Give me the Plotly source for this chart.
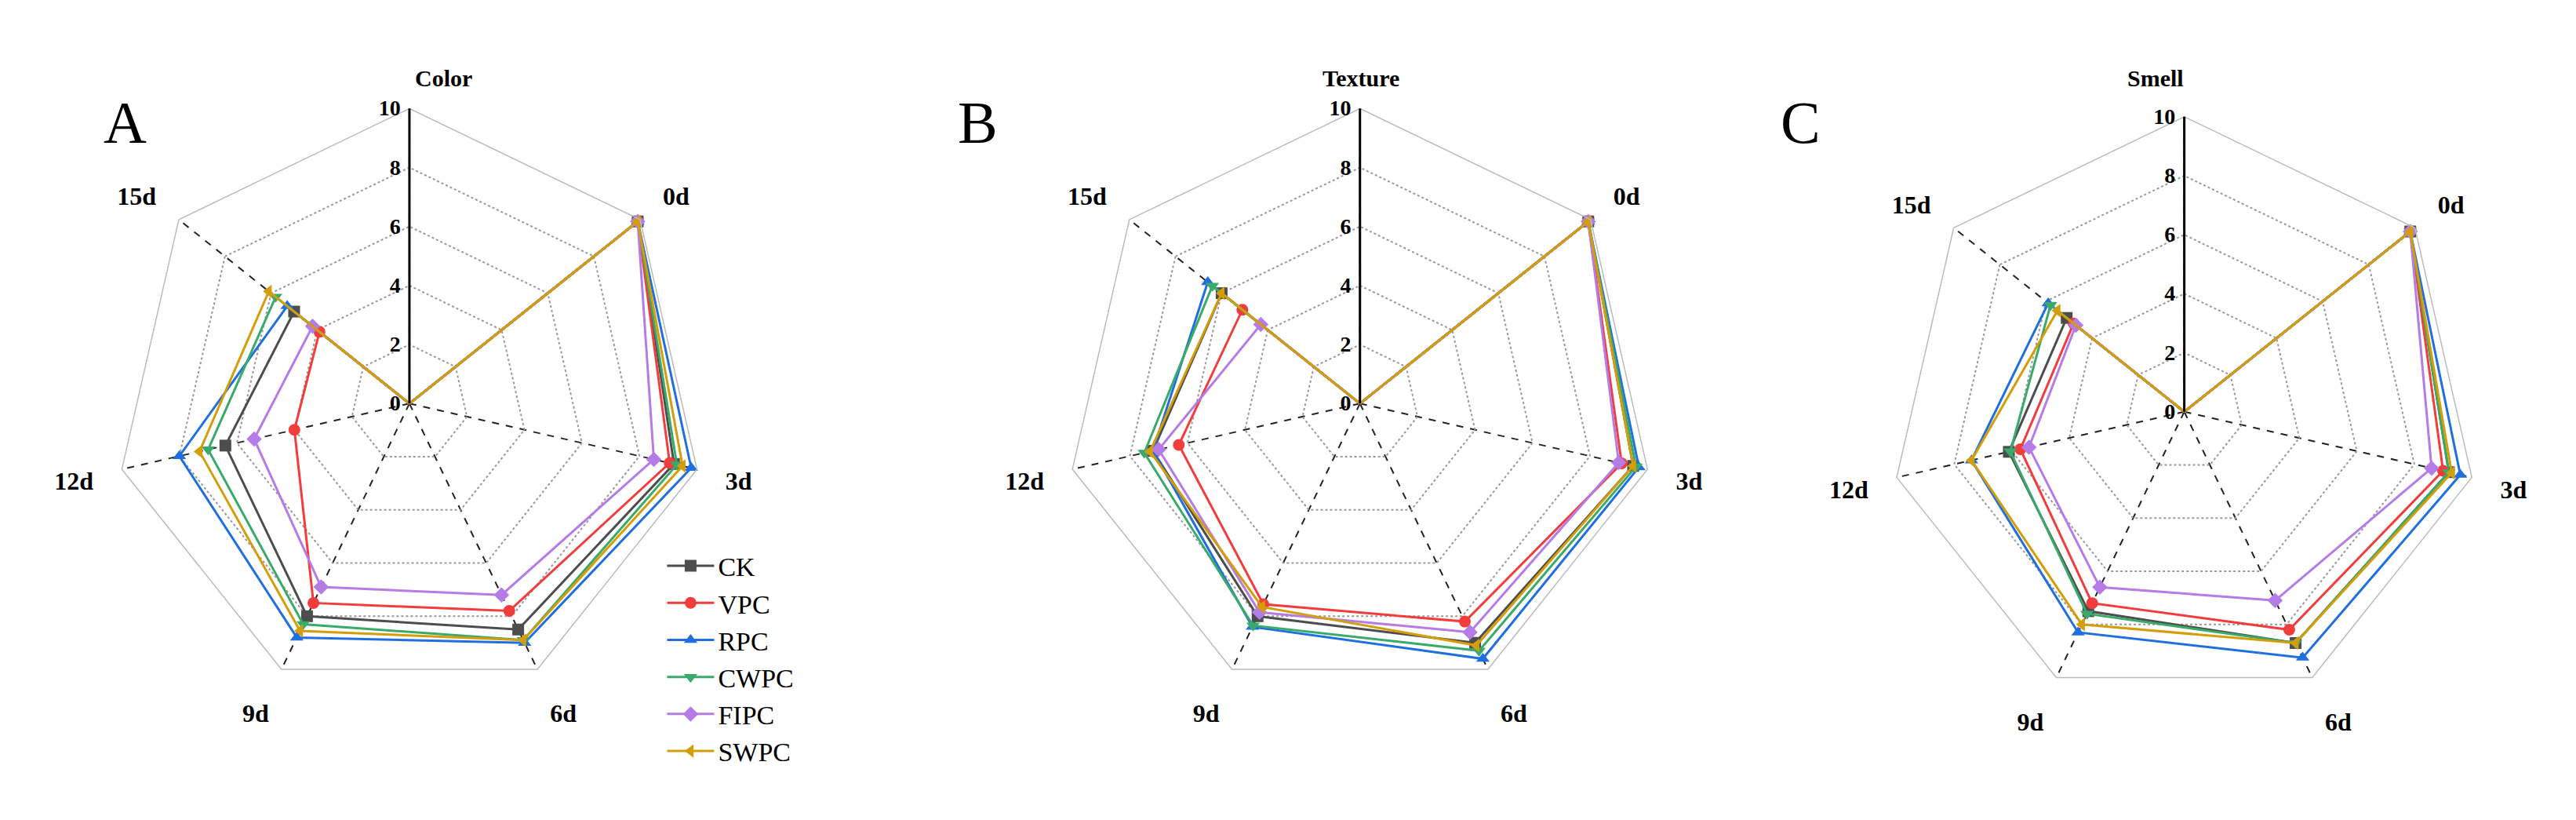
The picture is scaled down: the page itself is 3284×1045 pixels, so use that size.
import plotly.graph_objects as go

days = ["", "0d", "3d", "6d", "9d", "12d", "15d"]
groups = ["CK", "VPC", "RPC", "CWPC", "FIPC", "SWPC"]

# scores per group, first value is the blank top axis
color_scores = {
    "CK":   [0, 9.9, 9.2, 8.5, 8.0, 6.4, 5.0],
    "VPC":  [0, 9.9, 9.05, 7.8, 7.5, 4.0, 3.9],
    "RPC":  [0, 9.9, 9.8, 9.0, 8.8, 8.0, 5.3],
    "CWPC": [0, 9.9, 9.3, 8.9, 8.3, 7.0, 5.8],
    "FIPC": [0, 9.9, 8.5, 7.2, 6.9, 5.4, 4.2],
    "SWPC": [0, 9.9, 9.5, 8.9, 8.55, 7.3, 6.1],
}
texture_scores = {
    "CK":   [0, 9.9, 9.5, 9.0, 8.0, 7.2, 6.0],
    "VPC":  [0, 9.9, 9.1, 8.2, 7.55, 6.3, 5.1],
    "RPC":  [0, 9.9, 9.7, 9.6, 8.4, 7.2, 6.6],
    "CWPC": [0, 9.9, 9.6, 9.3, 8.35, 7.5, 6.4],
    "FIPC": [0, 9.9, 9.0, 8.6, 7.85, 7.0, 4.3],
    "SWPC": [0, 9.9, 9.5, 9.1, 7.65, 7.3, 6.0],
}
smell_scores = {
    "CK":   [0, 9.8, 9.2, 8.7, 7.5, 6.1, 5.1],
    "VPC":  [0, 9.8, 9.0, 8.2, 7.2, 5.7, 4.8],
    "RPC":  [0, 9.8, 9.6, 9.25, 8.3, 7.4, 5.9],
    "CWPC": [0, 9.8, 9.2, 8.7, 7.6, 6.05, 5.8],
    "FIPC": [0, 9.8, 8.6, 7.1, 6.6, 5.4, 4.7],
    "SWPC": [0, 9.8, 9.3, 8.7, 8.0, 7.4, 5.5],
}

colors = {"CK": "#4d4d4d", "VPC": "#f33c3c", "RPC": "#1f6fe0",
          "CWPC": "#3aaa6a", "FIPC": "#b57be6", "SWPC": "#d49d0a"}
symbols = {"CK": "square", "VPC": "circle", "RPC": "triangle-up",
           "CWPC": "triangle-down", "FIPC": "diamond", "SWPC": "triangle-left"}

panels = [("polar", color_scores), ("polar2", texture_scores), ("polar3", smell_scores)]

fig = go.Figure()
for i, (sub, scores) in enumerate(panels):
    for g in groups:
        r = scores[g] + scores[g][:1]
        fig.add_trace(go.Scatterpolar(
            r=r, theta=days + days[:1], subplot=sub, name=g,
            mode="lines+markers", showlegend=(i == 0),
            line=dict(color=colors[g], width=3),
            marker=dict(symbol=symbols[g], size=15, color=colors[g]),
        ))

font = "Liberation Serif"
def polar_cfg(xd, yd):
    return dict(
        domain=dict(x=xd, y=yd),
        gridshape="linear",
        bgcolor="white",
        radialaxis=dict(range=[0, 10], tickvals=[0, 2, 4, 6, 8, 10], angle=90,
                        tickangle=90, side="counterclockwise",
                        showline=True, linecolor="black", linewidth=3,
                        gridcolor="#999999", griddash="dot", gridwidth=1.5,
                        ticks="", tickfont=dict(family=font, size=28, color="black", weight="bold")),
        angularaxis=dict(direction="clockwise", rotation=90,
                         showline=True, linecolor="#bbbbbb", linewidth=1.5,
                         gridcolor="#222222", griddash="dash", gridwidth=1.5,
                         ticks="outside", ticklen=30, tickcolor="rgba(0,0,0,0)",
                         tickfont=dict(family=font, size=32, color="black", weight="bold")),
    )

fig.update_layout(
    width=3284, height=1045,
    paper_bgcolor="white",
    margin=dict(l=0, r=0, t=0, b=0),
    polar=polar_cfg([0.042, 0.271], [0.155, 0.876]),
    polar2=polar_cfg([0.411, 0.640], [0.155, 0.876]),
    polar3=polar_cfg([0.731, 0.960], [0.145, 0.866]),
    legend=dict(x=0.255, y=0.345, yanchor="top", xanchor="left",
                font=dict(family=font, size=34, color="black"),
                tracegroupgap=0, itemwidth=60, bgcolor="rgba(0,0,0,0)"),
)

titles = [("Color", 0.158), ("Texture", 0.526), ("Smell", 0.846)]
for t, x in titles:
    fig.add_annotation(text="<b>" + t + "</b>", x=x, y=0.93, xref="paper", yref="paper",
                       showarrow=False, font=dict(family=font, size=30, color="black"))
for t, x in [("A", 0.037), ("B", 0.377), ("C", 0.705)]:
    fig.add_annotation(text=t, x=x, y=0.9, xref="paper", yref="paper",
                       showarrow=False, font=dict(family=font, size=76, color="black"))

fig.write_html("out.html")
